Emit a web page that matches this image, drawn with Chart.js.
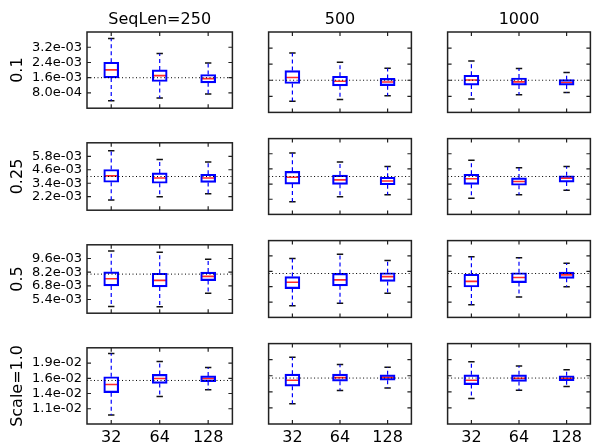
<!DOCTYPE html>
<html><head><meta charset="utf-8">
<script src="https://cdn.jsdelivr.net/npm/chart.js@4.4.0/dist/chart.umd.min.js"></script>
<style>
html,body{margin:0;padding:0;background:#fff}
#fig{position:relative;width:593px;height:445px;overflow:hidden;background:#fff}
#fig canvas{position:absolute}
</style></head><body><div id="fig"></div>
<script>
// box plots: rows = scale, cols = sequence length, boxes = batch size
const colTitles=['SeqLen=250','500','1000'];
const rowTitles=['0.1','0.25','0.5','Scale=1.0'];
const batchSizes=['32','64','128'];
const refLine=[1.6e-3,4.0e-3,8.0e-3,1.6e-2];
const yMin=[0,1.0e-3,4.0e-3,0.8e-2];
const yMax=[4.0e-3,7.0e-3,11.0e-3,2.2e-2];
const yTicks=[
  [0.8e-3,1.6e-3,2.4e-3,3.2e-3],
  [2.2e-3,3.4e-3,4.6e-3,5.8e-3],
  [5.4e-3,6.8e-3,8.2e-3,9.6e-3],
  [1.08e-2,1.36e-2,1.64e-2,1.92e-2]];

// [row][col][batch]
const whiskHi=[
  [[3.66e-3,2.87e-3,2.37e-3],[2.96e-3,2.49e-3,2.20e-3],[2.56e-3,2.18e-3,1.99e-3]],
  [[6.29e-3,5.52e-3,5.28e-3],[5.87e-3,5.14e-3,4.79e-3],[5.28e-3,4.69e-3,4.79e-3]],
  [[10.37e-3,10.24e-3,9.51e-3],[9.37e-3,9.75e-3,9.18e-3],[9.53e-3,9.43e-3,8.94e-3]],
  [[2.096e-2,1.948e-2,1.838e-2],[1.964e-2,1.838e-2,1.788e-2],[1.882e-2,1.810e-2,1.744e-2]]];
const q3=[
  [[2.41e-3,2.01e-3,1.77e-3],[2.08e-3,1.80e-3,1.69e-3],[1.85e-3,1.71e-3,1.63e-3]],
  [[4.62e-3,4.32e-3,4.20e-3],[4.41e-3,4.11e-3,3.94e-3],[4.18e-3,3.89e-3,4.06e-3]],
  [[8.23e-3,8.09e-3,8.21e-3],[7.72e-3,8.01e-3,8.07e-3],[7.93e-3,8.07e-3,8.13e-3]],
  [[1.668e-2,1.711e-2,1.684e-2],[1.668e-2,1.668e-2,1.656e-2],[1.656e-2,1.656e-2,1.640e-2]]];
const med=[
  [[2.01e-3,1.71e-3,1.55e-3],[1.74e-3,1.55e-3,1.51e-3],[1.61e-3,1.52e-3,1.49e-3]],
  [[4.06e-3,3.87e-3,3.87e-3],[3.94e-3,3.73e-3,3.64e-3],[3.82e-3,3.61e-3,3.87e-3]],
  [[7.52e-3,7.36e-3,7.77e-3],[7.20e-3,7.42e-3,7.72e-3],[7.28e-3,7.64e-3,7.88e-3]],
  [[1.525e-2,1.635e-2,1.635e-2],[1.563e-2,1.607e-2,1.612e-2],[1.563e-2,1.596e-2,1.596e-2]]];
const q1=[
  [[1.59e-3,1.40e-3,1.33e-3],[1.44e-3,1.32e-3,1.33e-3],[1.36e-3,1.36e-3,1.36e-3]],
  [[3.49e-3,3.40e-3,3.47e-3],[3.40e-3,3.38e-3,3.35e-3],[3.38e-3,3.31e-3,3.56e-3]],
  [[6.79e-3,6.69e-3,7.34e-3],[6.63e-3,6.88e-3,7.28e-3],[6.77e-3,7.17e-3,7.56e-3]],
  [[1.376e-2,1.546e-2,1.579e-2],[1.459e-2,1.546e-2,1.563e-2],[1.487e-2,1.541e-2,1.553e-2]]];
const whiskLo=[
  [[0.39e-3,0.53e-3,0.75e-3],[0.56e-3,0.64e-3,0.83e-3],[0.67e-3,0.88e-3,0.99e-3]],
  [[1.90e-3,2.20e-3,2.46e-3],[2.01e-3,2.39e-3,2.55e-3],[2.27e-3,2.55e-3,2.91e-3]],
  [[4.68e-3,4.65e-3,6.03e-3],[5.06e-3,5.28e-3,6.20e-3],[5.16e-3,5.87e-3,6.79e-3]],
  [[0.965e-2,1.305e-2,1.431e-2],[1.151e-2,1.382e-2,1.426e-2],[1.245e-2,1.388e-2,1.454e-2]]];

// panel placement (plot area) in page pixels
const ROW_TOP=[32,134,236,339], ROW_H=[85,85,86,85];
const COL_LEFT=[87,266,445], PANEL_W=150;

Chart.defaults.font.family='DejaVu Sans';
Chart.defaults.color='#000';

function fmtExp(v){
  const [m,e]=v.toExponential(1).split('e');
  const n=parseInt(e,10);
  return m+'e'+(n<0?'-':'+')+String(Math.abs(n)).padStart(2,'0');
}

// frame + inward ticks on all four sides (matplotlib look)
const frame={id:'frame',afterDraw(chart){
  const {ctx,chartArea:a,scales:{x,y}}=chart;
  ctx.save(); ctx.strokeStyle='#222'; ctx.lineWidth=1.2;
  ctx.beginPath();
  x.ticks.forEach(t=>{const px=x.getPixelForValue(t.value);
    ctx.moveTo(px,a.top);ctx.lineTo(px,a.top+4);ctx.moveTo(px,a.bottom);ctx.lineTo(px,a.bottom-4);});
  y.ticks.forEach(t=>{const py=y.getPixelForValue(t.value);
    ctx.moveTo(a.left,py);ctx.lineTo(a.left+4,py);ctx.moveTo(a.right,py);ctx.lineTo(a.right-4,py);});
  ctx.stroke();
  ctx.lineWidth=1.5; ctx.strokeRect(a.left,a.top,a.right-a.left,a.bottom-a.top);
  ctx.restore();
}};

const fig=document.getElementById('fig');
const xs=[1,2,3];

for(let r=0;r<4;r++) for(let c=0;c<3;c++){
  const L=c===0?87:6, R=4, T=r===0?32:4, B=r===3?21:4;
  const cv=document.createElement('canvas');
  cv.width=L+PANEL_W+R; cv.height=T+ROW_H[r]+B;
  cv.style.left=(COL_LEFT[c]-L)+'px'; cv.style.top=(ROW_TOP[r]-T)+'px';
  fig.appendChild(cv);

  const boxes=xs.map((x,i)=>({x,y:[q1[r][c][i],q3[r][c][i]]}));
  const whisk=[];
  xs.forEach((x,i)=>{
    whisk.push({x,y:q3[r][c][i]},{x,y:whiskHi[r][c][i]},{x,y:null},
               {x,y:q1[r][c][i]},{x,y:whiskLo[r][c][i]},{x,y:null});
  });
  const caps=xs.flatMap((x,i)=>[{x,y:whiskHi[r][c][i]},{x,y:whiskLo[r][c][i]}]);
  const meds=xs.map((x,i)=>({x,y:med[r][c][i]}));

  new Chart(cv,{
    type:'bar',
    data:{datasets:[
      {type:'line',data:[{x:0.5,y:refLine[r]},{x:3.5,y:refLine[r]}],borderColor:'#000',borderWidth:1,borderDash:[1,2.5],pointRadius:0},
      {type:'line',data:whisk,borderColor:'#0000ff',borderWidth:1.2,borderDash:[4,3],pointRadius:0,spanGaps:false},
      {type:'bar',data:boxes,barThickness:15,backgroundColor:'rgba(0,0,0,0)',borderColor:'#0000ff',borderWidth:1.5,borderSkipped:false},
      {type:'line',data:meds,showLine:false,pointStyle:'line',pointRadius:7,pointBorderColor:'#ff2a2a',pointBorderWidth:1.6},
      {type:'line',data:caps,showLine:false,pointStyle:'line',pointRadius:3.2,pointBorderColor:'#111',pointBorderWidth:1.5}
    ]},
    options:{
      responsive:false,animation:false,events:[],
      layout:{padding:{left:0,right:R,top:0,bottom:0}},
      plugins:{legend:{display:false},tooltip:{enabled:false}},
      scales:{
        x:{type:'linear',min:0.5,max:3.5,offset:false,
           grid:{display:false,drawTicks:false},border:{display:false},
           afterBuildTicks:s=>{s.ticks=xs.map(v=>({value:v}));},
           afterFit:s=>{s.height=B;},
           ticks:{display:r===3,autoSkip:false,maxRotation:0,padding:4,color:'#000',font:{size:16},
                  callback:(v,i)=>batchSizes[i]}},
        // top axis only carries the column title (centred over the plot area)
        xTop:{type:'linear',position:'top',min:0.5,max:3.5,offset:false,
           grid:{display:false,drawTicks:false},border:{display:false},
           afterFit:s=>{s.height=T;},
           ticks:{display:false},
           title:{display:r===0,text:colTitles[c],color:'#000',font:{size:16,lineHeight:1},padding:{top:12,bottom:0}}},
        y:{type:'linear',min:yMin[r],max:yMax[r],beginAtZero:false,
           grid:{display:false,drawTicks:false},border:{display:false},
           afterBuildTicks:s=>{s.ticks=yTicks[r].map(v=>({value:v}));},
           afterFit:s=>{s.width=L;},
           title:{display:c===0,text:rowTitles[r],color:'#000',font:{size:16,lineHeight:1.2},padding:{top:8,bottom:0}},
           ticks:{display:c===0,padding:5,color:'#000',font:{size:13},callback:v=>fmtExp(v)}}
      }
    },
    plugins:[frame]
  });
}
</script></body></html>
